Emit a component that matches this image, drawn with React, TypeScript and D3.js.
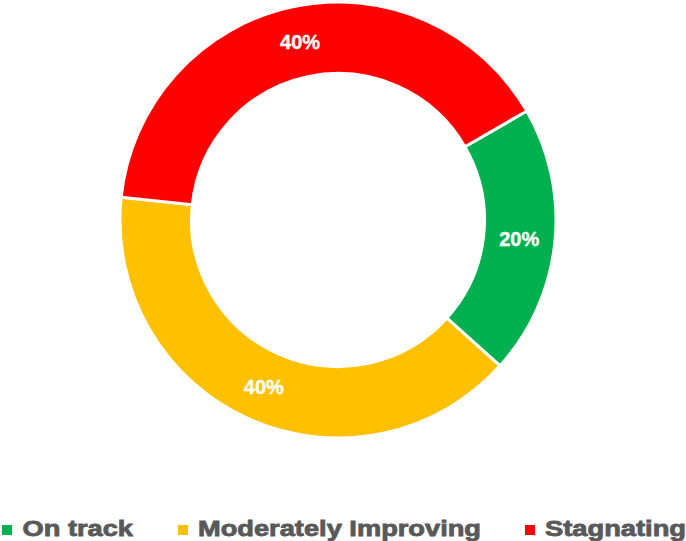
import React from "react";
import * as d3 from "d3";

const categories = ["On track", "Moderately Improving", "Stagnating"];
const values = [20, 40, 40];
const colors = ["#00B050", "#FFC000", "#FF0000"];
const labelTexts = ["20%", "40%", "40%"];

const W = 686;
const H = 541;
const cx = 338;
const cy = 220;
const outerR = 218;
const innerR = 146.5;

const legendItems = [
  { sq: 2, tx: 22.5, len: 110.5 },
  { sq: 178, tx: 198, len: 283 },
  { sq: 525, tx: 545, len: 141 },
];

export default function App() {
  const pie = d3
    .pie<number>()
    .sort(null)
    .startAngle(Math.PI / 3)
    .endAngle(Math.PI / 3 + 2 * Math.PI)(values);
  const arc = d3.arc<d3.PieArcDatum<number>>().innerRadius(innerR).outerRadius(outerR);
  const labelArc = d3
    .arc<d3.PieArcDatum<number>>()
    .innerRadius((innerR + outerR) / 2)
    .outerRadius((innerR + outerR) / 2);

  return (
    <svg
      width={W}
      height={H}
      style={{ position: "absolute", left: 0, top: 0, background: "#fff" }}
      fontFamily="'Liberation Sans', Arial, sans-serif"
    >
      <g transform={`translate(${cx},${cy})`}>
        {pie.map((d, i) => (
          <path key={i} d={arc(d) || ""} fill={colors[i]} stroke="#fff" strokeWidth={3} />
        ))}
        {pie.map((d, i) => {
          const [x, y] = labelArc.centroid(d);
          return (
            <text
              key={"l" + i}
              x={x}
              y={y}
              dy="0.36em"
              textAnchor="middle"
              fill="#fff"
              stroke="#fff"
              strokeWidth={0.4}
              fontWeight="bold"
              fontSize={20}
            >
              {labelTexts[i]}
            </text>
          );
        })}
      </g>
      <g>
        {categories.map((c, i) => (
          <g key={c}>
            <rect x={legendItems[i].sq} y={525} width={10} height={10} fill={colors[i]} />
            <text
              x={legendItems[i].tx}
              y={536}
              fontSize={21.5}
              fontWeight="bold"
              fill="#595959"
              stroke="#595959"
              strokeWidth={0.8}
              textLength={legendItems[i].len}
              lengthAdjust="spacingAndGlyphs"
            >
              {c}
            </text>
          </g>
        ))}
      </g>
    </svg>
  );
}
